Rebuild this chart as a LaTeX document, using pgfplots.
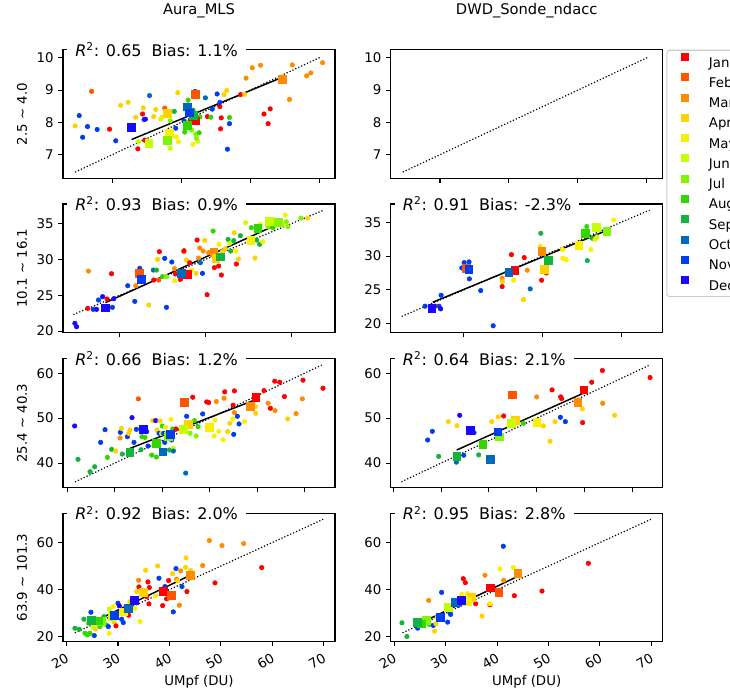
\documentclass[border=0pt]{standalone}
\usepackage{fontspec}
\setmainfont{DejaVu Sans}
\usepackage{pgfplots}
\usepackage{pgfplotstable}
\pgfplotsset{compat=1.18}

\definecolor{cJan}{RGB}{255,0,0}
\definecolor{cFeb}{RGB}{255,85,0}
\definecolor{cMar}{RGB}{255,140,0}
\definecolor{cApr}{RGB}{255,210,0}
\definecolor{cMay}{RGB}{250,240,0}
\definecolor{cJun}{RGB}{200,255,0}
\definecolor{cJul}{RGB}{130,245,0}
\definecolor{cAug}{RGB}{50,215,0}
\definecolor{cSep}{RGB}{20,180,60}
\definecolor{cOct}{RGB}{0,105,190}
\definecolor{cNov}{RGB}{0,60,240}
\definecolor{cDec}{RGB}{25,10,255}

% ---- row 1, Aura_MLS ----
\pgfplotstableread{
x y m
6.96 7.79 1
7.37 7.18 1
7.44 8.26 1
7.47 7.45 1
8.13 8.07 1
8.38 8.18 1
8.56 8.49 1
8.58 8.14 1
8.57 7.80 1
8.86 8.86 1
9.20 8.26 1
9.26 7.96 1
9.29 8.42 1
6.70 8.96 2
7.76 8.44 2
8.94 9.37 3
9.03 9.69 3
9.15 9.77 3
9.57 8.71 3
9.61 9.78 3
9.82 9.44 3
9.88 9.53 3
10.05 9.85 3
6.46 7.89 4
7.12 8.53 4
7.23 8.62 4
7.34 8.16 4
7.45 8.45 4
7.60 8.18 4
7.63 8.40 4
7.95 8.92 4
8.62 8.86 4
8.66 8.99 4
8.92 8.87 4
7.70 8.10 5
7.93 7.55 5
7.96 7.40 5
8.17 7.32 5
7.38 7.40 6
7.72 8.16 6
7.84 7.20 6
8.24 7.42 6
7.84 8.05 7
8.21 7.64 7
8.15 7.76 7
8.22 7.51 7
8.05 7.70 8
8.10 8.69 8
8.26 7.68 8
8.27 8.17 8
8.43 8.16 8
8.70 8.15 8
7.90 8.34 9
8.17 8.38 9
7.54 8.83 10
8.35 8.76 10
6.52 8.21 11
6.57 7.54 11
6.64 7.87 11
6.78 7.78 11
7.05 7.43 11
7.46 8.09 11
7.92 7.82 11
8.04 8.04 11
8.45 8.41 11
8.52 8.88 11
8.56 8.62 11
8.67 7.17 11
8.70 7.96 11
8.20 8.96 11
7.48 8.10 12
}\ptsA
\pgfplotstableread{
x y m
8.21 8.05 1
8.20 8.88 2
9.47 9.34 3
7.80 8.29 4
7.83 7.66 5
7.53 7.36 6
7.80 7.45 7
8.09 7.90 8
8.17 8.22 9
8.09 8.48 10
8.12 8.30 11
7.27 7.84 12
}\avgA

% ---- row 2, Aura_MLS ----
\pgfplotstableread{
x y m
22.39 21.08 12
22.49 20.61 12
23.14 23.17 1
23.18 28.36 3
23.45 23.03 11
23.65 23.03 12
23.76 24.33 11
24.00 24.79 12
24.26 24.47 1
24.52 27.99 1
24.57 23.31 11
24.65 24.51 12
25.46 26.32 11
25.87 24.14 11
25.93 26.32 3
26.16 28.74 11
26.68 23.63 4
26.97 27.11 1
26.95 28.50 10
27.13 28.50 9
27.19 29.99 4
27.30 31.06 1
27.26 27.11 2
27.48 27.58 8
27.61 30.13 11
27.71 23.31 11
27.71 27.58 7
28.02 29.62 11
28.17 28.69 3
28.19 27.02 5
28.23 27.95 1
28.52 27.20 1
28.71 31.06 3
28.73 31.19 1
28.87 29.90 4
29.06 29.52 1
29.16 28.50 5
29.43 28.04 4
29.49 32.68 1
29.57 30.17 3
29.64 31.57 3
29.68 29.52 10
29.80 28.04 11
29.84 31.15 3
29.93 32.63 4
30.07 25.07 1
30.16 30.92 3
30.42 33.93 8
30.49 28.83 1
30.74 29.06 1
30.76 32.08 5
30.90 27.81 1
30.96 31.06 4
31.13 31.47 4
31.29 32.77 9
31.38 32.22 6
31.44 31.15 9
31.62 32.59 9
31.65 33.70 4
31.73 31.15 5
31.77 29.34 1
31.89 30.03 4
32.00 33.28 9
32.31 35.09 6
32.64 34.40 8
32.85 30.17 4
32.95 32.68 9
33.12 32.08 9
33.31 32.45 5
33.16 34.86 5
33.61 34.54 7
33.90 34.40 8
34.03 34.91 6
34.28 34.91 7
34.48 34.86 6
34.61 36.16 5
34.67 35.23 7
34.77 34.54 7
35.52 35.74 7
35.91 35.74 4
}\ptsB
\pgfplotstableread{
x y m
28.91 27.90 1
26.12 28.04 2
30.45 30.96 3
30.57 30.13 4
32.60 32.68 5
33.67 35.32 6
34.19 35.19 7
33.01 34.30 8
30.84 30.36 9
28.56 28.04 10
26.24 27.25 11
24.17 23.26 12
}\avgB

% ---- row 2, DWD_Sonde_ndacc ----
\pgfplotstableread{
x y m
22.56 22.59 11
23.19 22.59 1
23.45 22.59 11
23.58 24.21 11
23.55 22.20 12
24.89 28.25 11
25.04 29.04 11
25.35 29.14 11
25.37 26.63 11
26.09 24.90 11
26.88 19.70 11
27.45 26.72 3
27.45 25.49 1
27.47 26.23 4
28.04 30.22 1
28.19 26.43 5
28.80 23.57 4
28.85 29.78 1
29.04 27.91 3
29.23 25.15 10
29.86 31.45 5
29.90 33.37 9
29.95 26.43 1
30.26 27.51 1
31.28 30.96 5
31.30 29.68 5
31.51 29.48 5
32.82 34.36 8
32.85 29.33 9
33.08 30.96 5
33.17 32.64 9
33.34 32.44 5
33.46 32.83 6
34.52 35.34 5
}\ptsC
\pgfplotstableread{
x y m
28.25 27.86 1
25.16 28.25 2
29.97 30.76 3
30.12 28.10 4
32.30 31.60 5
33.42 34.26 6
34.09 33.67 7
32.72 33.42 8
30.37 29.38 9
27.87 27.66 10
25.33 28.00 11
22.98 22.34 12
}\avgC

% ---- row 3, Aura_MLS ----
\pgfplotstableread{
x y m
35.77 48.25 12
36.12 40.82 9
37.39 38.07 9
37.88 39.18 9
38.51 44.61 11
38.97 47.43 11
39.22 41.26 8
39.67 43.05 9
40.09 42.68 4
40.55 45.58 3
40.58 46.84 11
40.69 47.73 4
40.79 42.01 9
41.32 45.87 11
41.46 46.62 4
41.60 47.36 4
41.81 50.11 12
42.02 44.61 11
42.27 47.51 11
42.48 54.28 2
42.76 42.97 9
42.86 45.87 8
43.18 45.72 8
43.36 46.99 11
43.50 43.79 11
43.89 41.78 8
43.99 49.44 4
44.31 49.44 12
44.38 41.34 8
44.45 47.36 4
44.66 46.62 11
44.76 49.37 4
44.94 46.62 6
45.01 48.25 8
45.15 46.62 11
45.26 44.61 11
45.33 47.96 5
45.75 42.90 9
45.92 49.74 5
45.99 45.13 10
46.10 47.58 8
46.17 43.27 6
46.17 42.68 10
46.45 47.58 1
47.47 37.77 10
47.57 50.41 11
47.93 46.62 7
48.21 54.65 1
48.39 49.44 8
48.56 46.02 7
48.77 48.10 8
49.26 50.93 11
49.68 53.61 1
49.89 53.46 1
50.46 46.02 5
50.56 49.59 5
50.70 53.68 3
50.95 47.06 5
51.40 45.20 5
51.51 54.42 3
51.58 55.84 1
51.90 46.99 4
52.11 48.85 4
52.43 49.81 5
52.46 52.86 1
52.53 46.39 11
52.60 56.06 1
52.60 51.23 3
52.91 50.41 11
53.09 48.70 11
53.65 49.22 5
54.81 52.57 4
54.85 51.08 4
55.72 56.13 1
56.15 53.31 3
56.39 52.19 1
56.85 58.22 1
56.88 51.67 3
57.37 57.99 1
57.87 54.80 1
58.22 49.81 4
59.10 51.00 3
59.76 54.28 3
59.83 58.44 1
61.94 56.65 1
}\ptsD
\pgfplotstableread{
x y m
54.85 54.65 1
47.33 53.53 2
54.28 52.57 3
47.72 48.70 4
49.96 48.03 5
47.22 47.51 6
45.60 45.90 7
44.34 44.39 8
41.57 42.45 9
45.05 42.53 10
45.85 46.39 11
42.97 47.51 12
}\avgD

% ---- row 3, DWD_Sonde_ndacc ----
\pgfplotstableread{
x y m
38.59 45.13 11
39.08 47.06 11
39.74 41.49 9
40.75 49.22 4
41.59 40.20 10
41.66 48.33 4
41.94 50.63 12
42.36 41.75 11
43.44 46.77 11
43.93 41.82 9
44.48 44.01 7
45.29 49.22 4
45.98 50.26 4
46.54 50.48 1
48.60 48.85 8
49.99 54.72 3
50.69 48.25 4
51.39 44.83 4
51.60 56.28 1
51.91 49.22 4
52.47 50.19 11
52.50 54.72 1
52.60 54.35 1
52.99 49.22 11
54.77 52.04 4
54.80 49.00 1
55.75 57.99 1
56.86 60.59 1
56.90 53.31 3
58.15 50.63 4
61.85 59.03 1
}\ptsE
\pgfplotstableread{
x y m
54.91 56.28 1
47.41 55.17 2
54.28 53.46 3
47.76 49.59 4
49.99 49.00 5
47.34 48.85 6
46.09 45.87 7
44.34 44.16 8
41.62 41.45 9
45.11 40.89 10
45.91 46.99 11
43.02 47.36 12
}\avgE

% ---- row 4, Aura_MLS ----
\pgfplotstableread{
x y m
21.62 23.55 9
22.46 23.12 9
23.37 27.38 9
23.57 21.42 8
24.02 20.71 8
24.22 25.67 7
24.54 21.42 8
24.73 30.35 11
25.19 23.83 6
25.38 20.43 11
25.64 23.12 4
25.84 25.67 7
26.49 24.26 8
27.26 28.51 9
27.78 24.96 8
28.11 24.26 11
28.30 31.63 6
28.30 21.42 5
29.08 32.77 5
29.21 26.24 4
29.60 24.54 1
29.99 34.18 11
30.25 33.05 12
30.70 27.38 11
31.02 25.96 11
32.06 29.08 1
32.32 34.89 4
33.29 32.06 5
33.62 39.15 4
34.01 43.97 3
34.07 41.13 1
34.27 26.38 5
35.37 48.23 4
35.56 37.02 1
35.82 43.26 1
36.08 40.85 1
36.02 33.90 1
37.25 37.30 5
37.70 50.07 4
37.96 44.82 11
38.48 39.57 3
38.68 33.19 1
39.13 41.28 11
39.46 36.03 1
39.84 43.83 1
40.62 46.81 4
40.75 30.50 11
41.27 48.94 11
41.40 44.40 3
41.60 43.69 4
41.92 33.33 3
42.18 47.94 3
42.44 41.28 11
43.15 49.50 4
43.22 53.48 4
43.41 39.15 1
44.12 48.09 4
46.46 50.21 3
47.76 60.85 3
48.86 42.84 1
50.22 58.72 3
54.44 59.57 3
57.94 49.36 1
}\ptsF
\pgfplotstableread{
x y m
38.81 39.43 1
40.30 37.59 2
44.06 46.10 3
34.92 38.87 4
31.00 30.50 5
28.82 28.51 6
26.81 26.38 7
26.16 26.67 8
24.86 26.81 9
32.00 32.06 10
29.30 29.00 11
33.10 35.60 12
}\avgF

% ---- row 4, DWD_Sonde_ndacc ----
\pgfplotstableread{
x y m
21.49 25.86 9
22.46 20.03 9
24.54 23.58 11
25.64 26.14 7
26.68 35.39 3
26.81 25.15 8
27.59 24.72 11
27.85 22.30 4
28.11 25.43 4
28.37 28.28 5
28.88 28.00 11
29.21 38.81 11
30.38 26.14 11
30.83 29.99 11
30.96 29.42 11
32.45 33.26 11
33.16 37.95 5
33.42 44.64 1
33.81 42.93 1
34.20 38.24 5
35.82 33.97 1
37.06 28.71 4
37.64 46.06 3
38.61 33.54 1
38.61 33.97 5
40.56 48.76 5
41.21 58.44 11
41.27 43.93 3
43.15 49.33 5
43.35 37.38 1
48.73 39.37 1
57.74 51.18 1
}\ptsG
\pgfplotstableread{
x y m
38.61 40.80 1
40.30 38.95 2
44.00 47.06 3
34.92 36.81 4
34.20 34.96 5
30.51 32.55 6
26.16 26.86 7
25.32 25.43 8
24.47 26.14 9
31.80 34.68 10
29.01 28.28 11
33.10 35.39 12
}\avgG

\pgfplotsset{
  panel/.style={
    scale only axis, width=204pt, height=96.4pt, anchor=south west,
    set layers, clip=false,
    axis line style={line width=0.8pt},
    major tick style={black, line width=0.8pt},
    tick align=outside, major tick length=3.5pt, tick pos=left,
    tick label style={font=\fontsize{10}{12}\selectfont},
    /pgf/number format/assume math mode=true,
    ylabel style={at={(axis description cs:-0.151,0.5)}, anchor=center,
      font=\fontsize{10}{12}\selectfont},
    title style={at={(axis description cs:0.5,1)}, anchor=center, yshift=23.5pt,
      font=\fontsize{11}{13}\selectfont},
  },
  bottomrow/.style={
    xtick={20,30,40,50,60,70},
    xticklabel style={rotate=30, anchor=north east},
    xlabel={UMpf (DU)},
    xlabel style={at={(axis description cs:0.5,0)}, anchor=center, yshift=-30pt,
      font=\fontsize{10}{12}\selectfont},
  },
  monthcols/.style={scatter/classes={
    1={cJan},2={cFeb},3={cMar},4={cApr},5={cMay},6={cJun},
    7={cJul},8={cAug},9={cSep},10={cOct},11={cNov},12={cDec}}},
  dots/.style={only marks, scatter, scatter src=explicit symbolic, monthcols,
    mark=*, mark size=1.7pt},
  means/.style={only marks, scatter, scatter src=explicit symbolic, monthcols,
    mark=square*, mark size=2.9pt},
  refline/.style={black, line width=0.9pt, dash pattern=on 0.9pt off 1.5pt},
  fitline/.style={black, line width=1.1pt},
  legsq/.style={draw=none, legend image code/.code={%
    \path (0pt,0pt) -- (31.5pt,0pt);
    \fill[#1, sharp corners] (10.5pt,0.65pt) rectangle (16.5pt,6.65pt);}},
}

\newcommand{\rbox}[2]{%
  \node[on layer=axis foreground, fill=white, anchor=west, xshift=3pt,
    inner xsep=6pt, inner ysep=1.5pt, font=\fontsize{12}{14}\selectfont]
    at (rel axis cs:0,1) {\textit{R}\textsuperscript{2}: #1\hspace{0.62em}Bias: #2\%};}

\begin{document}
\begin{tikzpicture}

% row 1
\begin{axis}[panel, at={(47.25pt,385.3pt)},
  xmin=6.285, xmax=10.23, ymin=6.27, ymax=10.25,
  xtick={7,8,9,10}, ytick={7,8,9,10}, xticklabels={},
  title={Aura\_MLS}, ylabel={2.5 \textasciitilde\ 4.0}]
\addplot[refline] coordinates {(6.46,6.46) (10.03,10.03)};
\addplot[dots] table[x=x, y=y, meta=m] {\ptsA};
\addplot[means] table[x=x, y=y, meta=m] {\avgA};
\addplot[fitline] coordinates {(7.28,7.47) (9.47,9.40)};
\rbox{0.65}{1.1}
\end{axis}

\begin{axis}[panel, at={(293pt,385.3pt)},
  xmin=6.285, xmax=10.23, ymin=6.27, ymax=10.25,
  xtick={7,8,9,10}, ytick={7,8,9,10}, xticklabels={},
  title={DWD\_Sonde\_ndacc},
  legend style={at={(1.0136,1)}, anchor=north west, draw=black!20,
    line width=0.8pt, rounded corners=2pt, fill=white,
    inner xsep=0pt, inner ysep=1.2pt, row sep=0pt, column sep=0pt,
    nodes={inner sep=0pt, text height=11.4pt, text depth=3.8pt,
      font=\fontsize{10}{12}\selectfont}},
  legend cell align=left]
\addlegendimage{legsq=cJan}\addlegendentry{Jan}
\addlegendimage{legsq=cFeb}\addlegendentry{Feb}
\addlegendimage{legsq=cMar}\addlegendentry{Mar}
\addlegendimage{legsq=cApr}\addlegendentry{Apr}
\addlegendimage{legsq=cMay}\addlegendentry{May}
\addlegendimage{legsq=cJun}\addlegendentry{Jun}
\addlegendimage{legsq=cJul}\addlegendentry{Jul}
\addlegendimage{legsq=cAug}\addlegendentry{Aug}
\addlegendimage{legsq=cSep}\addlegendentry{Sep}
\addlegendimage{legsq=cOct}\addlegendentry{Oct}
\addlegendimage{legsq=cNov}\addlegendentry{Nov}
\addlegendimage{legsq=cDec}\addlegendentry{Dec}
\addplot[refline, forget plot] coordinates {(6.46,6.46) (10.03,10.03)};
\end{axis}

% row 2
\begin{axis}[panel, at={(47.25pt,269.6pt)},
  xmin=21.7, xmax=37.5, ymin=19.8, ymax=37.7,
  xtick={25,30,35}, ytick={20,25,30,35}, xticklabels={},
  ylabel={10.1 \textasciitilde\ 16.1}]
\addplot[refline] coordinates {(22.3,22.3) (36.8,36.8)};
\addplot[dots] table[x=x, y=y, meta=m] {\ptsB};
\addplot[means] table[x=x, y=y, meta=m] {\avgB};
\addplot[fitline] coordinates {(24.17,23.96) (34.28,35.0)};
\rbox{0.93}{0.9}
\end{axis}

\begin{axis}[panel, at={(293pt,269.6pt)},
  xmin=20.38, xmax=37.63, ymin=18.7, ymax=37.7,
  xtick={25,30,35}, ytick={20,25,30,35}, xticklabels={}]
\addplot[refline] coordinates {(21.08,21.08) (36.8,36.8)};
\addplot[dots] table[x=x, y=y, meta=m] {\ptsC};
\addplot[means] table[x=x, y=y, meta=m] {\avgC};
\addplot[fitline] coordinates {(23.05,23.18) (34.2,33.9)};
\rbox{0.91}{-2.3}
\end{axis}

% row 3
\begin{axis}[panel, at={(47.25pt,153.5pt)},
  xmin=34.54, xmax=63.2, ymin=34.6, ymax=63.2,
  xtick={35,40,45,50,55,60}, ytick={40,50,60}, xticklabels={},
  ylabel={25.4 \textasciitilde\ 40.3}]
\addplot[refline] coordinates {(35.8,35.8) (61.8,61.8)};
\addplot[dots] table[x=x, y=y, meta=m] {\ptsD};
\addplot[means] table[x=x, y=y, meta=m] {\avgD};
\addplot[fitline] coordinates {(41.60,43.27) (54.95,54.20)};
\rbox{0.66}{1.2}
\end{axis}

\begin{axis}[panel, at={(293pt,153.5pt)},
  xmin=34.72, xmax=63.17, ymin=34.6, ymax=63.2,
  xtick={35,40,45,50,55,60}, ytick={40,50,60}, xticklabels={}]
\addplot[refline] coordinates {(35.84,35.84) (61.86,61.86)};
\addplot[dots] table[x=x, y=y, meta=m] {\ptsE};
\addplot[means] table[x=x, y=y, meta=m] {\avgE};
\addplot[fitline] coordinates {(41.62,42.90) (54.87,55.54)};
\rbox{0.64}{2.1}
\end{axis}

% row 4
\begin{axis}[panel, bottomrow, at={(47.25pt,37.7pt)},
  xmin=19.3, xmax=72.2, ymin=17.8, ymax=72.5,
  ytick={20,40,60},
  ylabel={63.9 \textasciitilde\ 101.3}]
\addplot[refline] coordinates {(21.6,21.6) (69.9,69.9)};
\addplot[dots] table[x=x, y=y, meta=m] {\ptsF};
\addplot[means] table[x=x, y=y, meta=m] {\avgF};
\addplot[fitline] coordinates {(24.41,25.39) (44.45,46.52)};
\rbox{0.92}{2.0}
\end{axis}

\begin{axis}[panel, bottomrow, at={(293pt,37.7pt)},
  xmin=19.3, xmax=72.2, ymin=17.8, ymax=72.5,
  ytick={20,40,60}]
\addplot[refline] coordinates {(21.6,21.6) (69.9,69.9)};
\addplot[dots] table[x=x, y=y, meta=m] {\ptsG};
\addplot[means] table[x=x, y=y, meta=m] {\avgG};
\addplot[fitline] coordinates {(24.54,25.15) (44.0,45.63)};
\rbox{0.95}{2.8}
\end{axis}

\pgfresetboundingbox
\useasboundingbox (0,0) rectangle (547.5pt,519pt);
\end{tikzpicture}
\end{document}
